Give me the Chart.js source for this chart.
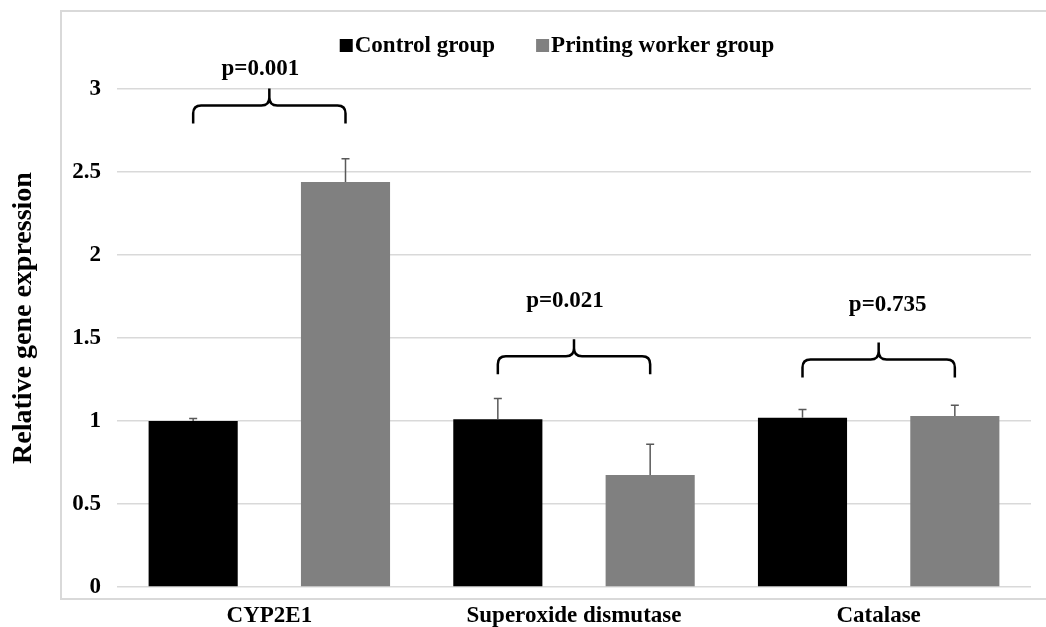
<!DOCTYPE html>
<html>
<head>
<meta charset="utf-8">
<script src="https://cdn.jsdelivr.net/npm/chart.js@4.4.1/dist/chart.umd.min.js"></script>
<style>
  html, body { margin: 0; padding: 0; background: #fff; }
  #wrap { width: 1046px; height: 627px; position: relative; }
</style>
</head>
<body>
<div id="wrap"><canvas id="geneChart"></canvas></div>
<script>
// values
const genes = ['CYP2E1', 'Superoxide dismutase', 'Catalase']
const groupNames = ['Control group', 'Printing worker group']
const controlValues = [1.00, 1.01, 1.02]
const controlErrors = [0.015, 0.125, 0.05]
const printingValues = [2.44, 0.675, 1.03]
const printingErrors = [0.14, 0.185, 0.065]
const yTicks = [0, 0.5, 1, 1.5, 2, 2.5, 3]
const yTitle = 'Relative gene expression'

// significance brackets (heights in axis units)
const pLabels = ['p=0.001', 'p=0.021', 'p=0.735']
const bracketLevels = [2.90, 1.39, 1.37]
const pLabelLevels = [3.12, 1.72, 1.70]

const errors = [controlErrors, printingErrors]
const font = '"Liberation Serif", "Times New Roman", serif'
const pLabelShift = [-9, -9, 9]   // text isn't quite centred over the braces

const extras = {
    id: 'extras',
    afterDatasetsDraw(chart) {
        const ctx = chart.ctx
        const y = chart.scales.y

        // error bars (positive side only)
        ctx.save()
        ctx.strokeStyle = '#595959'
        ctx.lineWidth = 1.5
        chart.data.datasets.forEach((ds, i) => {
            chart.getDatasetMeta(i).data.forEach((bar, j) => {
                const top = y.getPixelForValue(ds.data[j] + errors[i][j])
                ctx.beginPath()
                ctx.moveTo(bar.x, bar.y)
                ctx.lineTo(bar.x, top)
                ctx.moveTo(bar.x - 4, top)
                ctx.lineTo(bar.x + 4, top)
                ctx.stroke()
            })
        })
        ctx.restore()
    },
    afterDraw(chart) {
        const ctx = chart.ctx
        const y = chart.scales.y
        const m0 = chart.getDatasetMeta(0).data
        const m1 = chart.getDatasetMeta(1).data

        ctx.save()
        // outer frame
        ctx.strokeStyle = '#d9d9d9'
        ctx.lineWidth = 2
        ctx.beginPath()
        ctx.moveTo(1046, 11)
        ctx.lineTo(61, 11)
        ctx.lineTo(61, 599)
        ctx.lineTo(1046, 599)
        ctx.stroke()

        // y axis title (sits a bit above the plot centre, as in Excel)
        ctx.fillStyle = '#000'
        ctx.font = 'bold 28px ' + font
        ctx.textAlign = 'center'
        ctx.textBaseline = 'middle'
        ctx.save()
        ctx.translate(24, 318)
        ctx.rotate(-Math.PI / 2)
        ctx.fillText(yTitle, 0, 0)
        ctx.restore()

        // curly brackets + p values
        ctx.strokeStyle = '#000'
        ctx.lineWidth = 2.5
        ctx.font = 'bold 23px ' + font
        pLabels.forEach((label, j) => {
            const x1 = m0[j].x, x2 = m1[j].x, xm = (x1 + x2) / 2
            const yl = y.getPixelForValue(bracketLevels[j])
            const r = 8, drop = 18, peak = 17
            ctx.beginPath()
            ctx.moveTo(x1, yl + drop)
            ctx.lineTo(x1, yl + r)
            ctx.quadraticCurveTo(x1, yl, x1 + r, yl)
            ctx.lineTo(xm - r, yl)
            ctx.quadraticCurveTo(xm, yl, xm, yl - r)
            ctx.lineTo(xm, yl - peak)
            ctx.moveTo(xm, yl - r)
            ctx.quadraticCurveTo(xm, yl, xm + r, yl)
            ctx.lineTo(x2 - r, yl)
            ctx.quadraticCurveTo(x2, yl, x2, yl + r)
            ctx.lineTo(x2, yl + drop)
            ctx.stroke()
            ctx.fillText(label, xm + pLabelShift[j], y.getPixelForValue(pLabelLevels[j]))
        })

        // legend, drawn like the Excel one (square glued to the text)
        ctx.font = 'bold 23px ' + font
        ctx.textAlign = 'left'
        ctx.textBaseline = 'alphabetic'
        const box = 13, gap = 2, spacing = 41
        const widths = chart.data.datasets.map(ds => ctx.measureText(ds.label).width)
        const total = widths.reduce((a, w) => a + box + gap + w, 0) + spacing * (widths.length - 1)
        let lx = 557 - total / 2
        chart.data.datasets.forEach((ds, i) => {
            ctx.fillStyle = ds.backgroundColor
            ctx.fillRect(lx, 39, box, box)
            ctx.fillStyle = '#000'
            ctx.fillText(ds.label, lx + box + gap, 52)
            lx += box + gap + widths[i] + spacing
        })
        ctx.restore()
    }
}

new Chart(document.getElementById('geneChart'), {
    type: 'bar',
    data: {
        labels: genes,
        datasets: [{
            label: groupNames[0],
            data: controlValues,
            backgroundColor: '#000000'
        }, {
            label: groupNames[1],
            data: printingValues,
            backgroundColor: '#808080'
        }]
    },
    options: {
        responsive: true,
        maintainAspectRatio: false,
        animation: false,
        categoryPercentage: 1.0,
        barPercentage: 0.585,
        layout: { padding: { top: 89, right: 15, left: 0, bottom: 0 } },
        plugins: {
            legend: { display: false },
            tooltip: { enabled: false }
        },
        scales: {
            x: {
                grid: { display: false },
                border: { display: false },
                ticks: {
                    color: '#000',
                    padding: 7,
                    font: { family: font, size: 23, weight: 'bold' }
                },
                afterFit(scale) { scale.height = 40 }
            },
            y: {
                min: 0,
                max: 3,
                afterBuildTicks(scale) { scale.ticks = yTicks.map(v => ({ value: v })) },
                grid: { color: '#d9d9d9', lineWidth: 1.5, drawTicks: false },
                border: { display: false },
                ticks: {
                    color: '#000',
                    padding: 16,
                    callback: value => String(value),
                    font: { family: font, size: 23, weight: 'bold' }
                },
                afterFit(scale) { scale.width = 117 }
            }
        }
    },
    plugins: [extras]
});
</script>
</body>
</html>
